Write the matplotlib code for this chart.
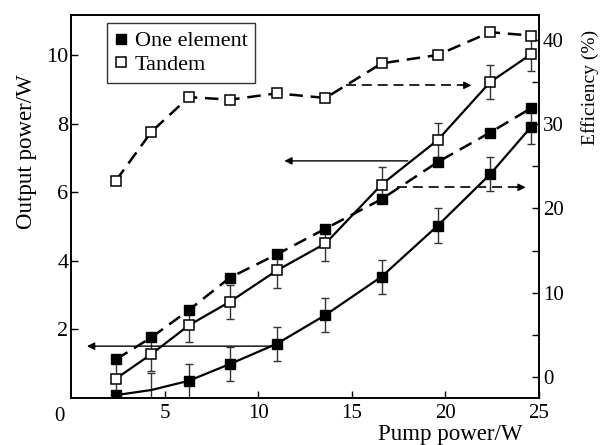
import os
import matplotlib
matplotlib.use("Agg")
from matplotlib import pyplot as plt
from matplotlib import font_manager
from matplotlib.lines import Line2D

# Times-like serif font, registering the file directly
serif_name = 'DejaVu Serif'
for path in font_manager.findSystemFonts():
    if os.path.basename(path).lower() == 'liberationserif-regular.ttf':
        font_manager.fontManager.addfont(path)
        serif_name = font_manager.FontProperties(fname=path).get_name()
        break
plt.rcParams['font.family'] = [serif_name, 'DejaVu Serif']

# pump power (W)
pump = [2.4, 4.3, 6.3, 8.5, 11.0, 13.6, 16.6, 19.6, 22.4, 24.6]

# output power (W), left axis
out_one = [0.07, 0.22, 0.49, 0.98, 1.57, 2.41, 3.53, 5.02, 6.52, 7.91]
out_one_err = [0.0, 0.5, 0.5, 0.5, 0.5, 0.5, 0.5, 0.5, 0.5, 0.5]
out_tandem = [0.55, 1.27, 2.11, 2.80, 3.71, 4.50, 6.22, 7.52, 9.21, 10.03]
out_tandem_err = [0.5, 0.5, 0.5, 0.5, 0.5, 0.5, 0.5, 0.5, 0.5, 0.5]

# efficiency (%), right axis
eff_one = [2.1, 4.7, 7.95, 11.8, 14.55, 17.6, 21.1, 25.5, 29.0, 31.9]
eff_tandem = [23.3, 29.1, 33.2, 32.9, 33.65, 33.1, 37.2, 38.2, 40.9, 40.5]

# arrows: (tail x, head x, y)
solid_arrows = [(18.0, 11.4, 6.91), (11.0, 0.85, 1.50)]   # left axis
dashed_arrows = [(14.7, 21.4, 34.6), (17.4, 24.3, 22.5)]  # right axis

fig = plt.figure(figsize=(6.02, 4.45), dpi=100)
ax = fig.add_axes([0.118, 0.1067, 0.777, 0.8596])
ax2 = ax.twinx()

dash = (0, (5.4, 3.1))

# output power curves (solid)
ax.errorbar(pump, out_one, yerr=out_one_err, ecolor='#333333',
            elinewidth=1, capsize=3, capthick=1, zorder=3, fmt='none')
ax.plot(pump, out_one, color='k', lw=1.6, marker='s', ms=7, mfc='k', mec='k',
        markevery=[0, 2, 3, 4, 5, 6, 7, 8, 9], zorder=4)
ax.errorbar(pump, out_tandem, yerr=out_tandem_err, ecolor='#333333',
            elinewidth=1, capsize=3, capthick=1, zorder=3, fmt='none')
ax.plot(pump, out_tandem, color='k', lw=1.6, marker='s', ms=7, mfc='white', mec='k',
        mew=1.1, zorder=4)

# efficiency curves (dashed)
ax2.plot(pump, eff_one, color='k', lw=1.8, ls=dash, marker='s', ms=7, mfc='k', mec='k', zorder=4)
ax2.plot(pump, eff_tandem, color='k', lw=1.8, ls=dash, marker='s', ms=7, mfc='white',
         mec='k', mew=1.1, zorder=4)

for x0, x1, y in solid_arrows:
    ax.annotate('', xy=(x1, y), xytext=(x0, y),
                arrowprops=dict(arrowstyle='-|>', lw=1, color='k', mutation_scale=11,
                                shrinkA=0, shrinkB=0))
for x0, x1, y in dashed_arrows:
    ax2.plot([x0, x1 - 0.3], [y, y], color='k', lw=1.2, ls=(0, (6, 3.5)))
    ax2.annotate('', xy=(x1, y), xytext=(x1 - 0.5, y),
                 arrowprops=dict(arrowstyle='-|>', lw=1, color='k', mutation_scale=11,
                                 shrinkA=0, shrinkB=0))

ax.set_xlim(0, 25)
ax.set_ylim(0, 11.17)
ax2.set_ylim(-2.43, 42.94)

ax.set_xticks([5, 10, 15, 20, 25])
ax.set_yticks([2, 4, 6, 8, 10])
ax2.set_yticks([0, 5, 10, 15, 20, 25, 30, 35, 40])
ax2.set_yticklabels(['0', '', '10', '', '20', '', '30', '', '40'])

ax.tick_params(axis='x', direction='in', length=5, width=1, labelsize=15, pad=5)
ax.tick_params(axis='y', direction='in', length=5, width=1, labelsize=16, pad=2)
ax2.tick_params(axis='y', direction='in', length=5, width=1, labelsize=15, pad=3)
ax.text(-0.6, -0.026, '0', transform=ax.get_xaxis_transform(), ha='center', va='top',
        fontsize=15)

for a in (ax, ax2):
    for s in a.spines.values():
        s.set_linewidth(1.2)

ax.set_xlabel('Pump power/W', fontsize=16.5, labelpad=0)
ax.xaxis.set_label_coords(0.81, -0.07)
ax.set_ylabel('Output power/W', fontsize=16.5)
ax.yaxis.set_label_coords(-0.073, 0.642)
ax2.set_ylabel('Efficiency (%)', fontsize=14)
ax2.yaxis.set_label_coords(1.09, 0.81)

handles = [Line2D([], [], ls='none', marker='s', ms=6.5, mfc='k', mec='k'),
           Line2D([], [], ls='none', marker='s', ms=6.5, mfc='white', mec='k', mew=1.1)]
leg = ax.legend(handles, ['One element', 'Tandem'], loc='upper left',
                bbox_to_anchor=(0.077, 0.979), borderaxespad=0, fontsize=16,
                frameon=True, fancybox=False, handlelength=0.6, handletextpad=0.3,
                borderpad=0.35, labelspacing=0.15)
leg.get_frame().set_edgecolor('k')
leg.get_frame().set_linewidth(1)

fig.savefig('out.png', dpi=100)
